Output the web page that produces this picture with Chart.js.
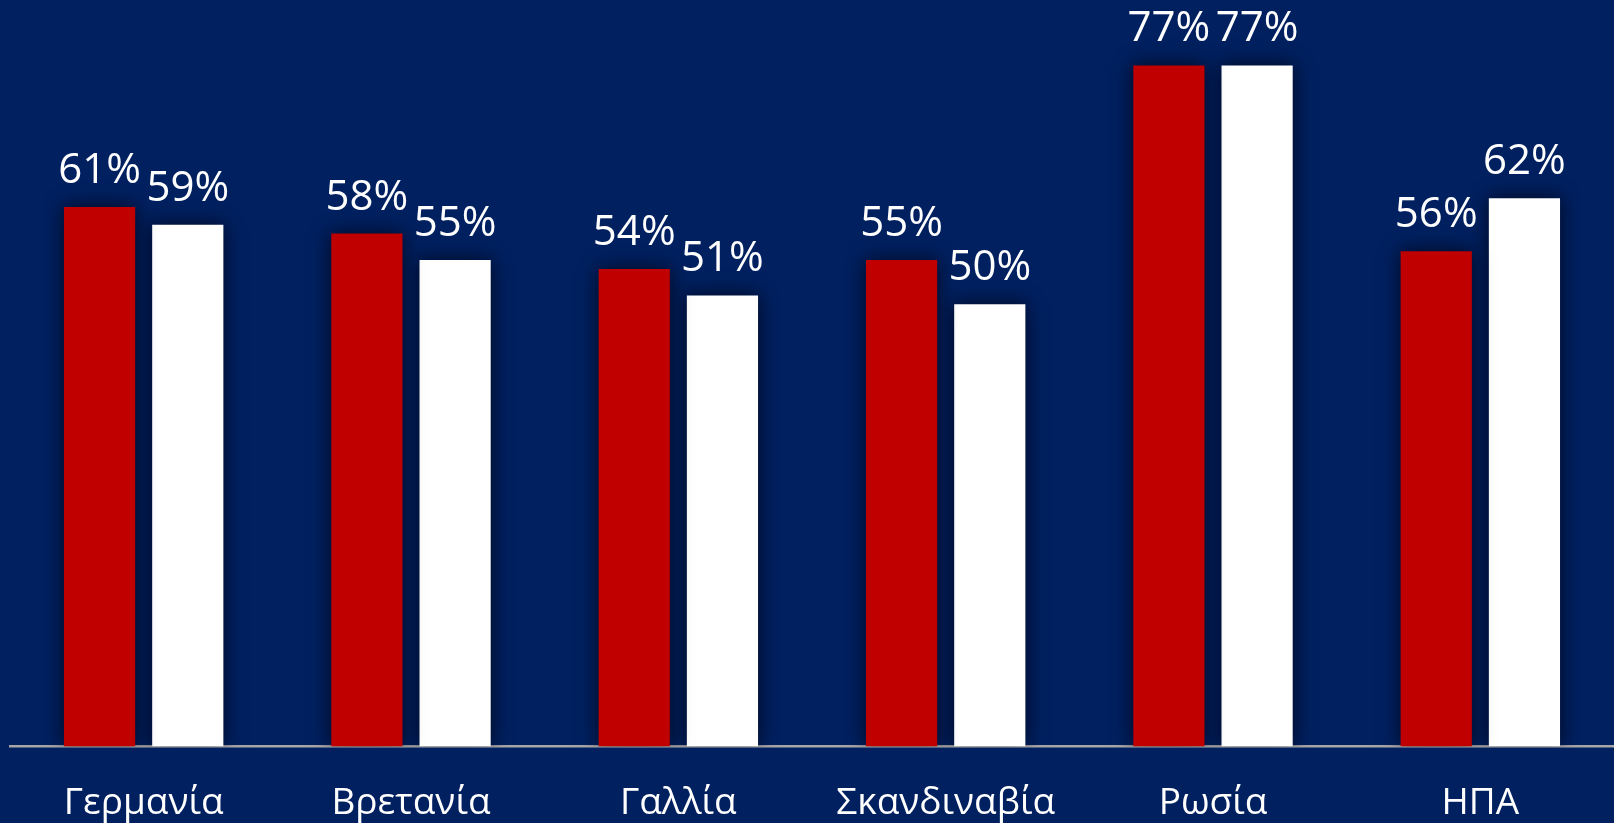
<!DOCTYPE html>
<html>
<head>
<meta charset="utf-8">
<script src="https://cdn.jsdelivr.net/npm/chart.js@4.4.1/dist/chart.umd.min.js"></script>
<style>
  html, body { margin: 0; padding: 0; background: #00205F; }
  #wrap { width: 1614px; height: 823px; }
</style>
</head>
<body>
<div id="wrap"><canvas id="chart" width="1614" height="823"></canvas></div>
<script>
// δεδομένα
const countries = ['Γερμανία', 'Βρετανία', 'Γαλλία', 'Σκανδιναβία', 'Ρωσία', 'ΗΠΑ'];
const seriesRed = [61, 58, 54, 55, 77, 56];
const seriesWhite = [59, 55, 51, 50, 77, 62];

const FONT = "'Open Sans', 'Noto Sans', sans-serif";

// σκιά γύρω από τις μπάρες
const barShadow = {
    id: 'barShadow',
    beforeDatasetsDraw(chart) {
        const ctx = chart.ctx;
        ctx.save();
        ctx.shadowColor = 'rgba(0, 6, 24, 0.9)';
        ctx.shadowBlur = 18;
        ctx.shadowOffsetX = 0;
        ctx.shadowOffsetY = 0;
    },
    afterDatasetsDraw(chart) {
        chart.ctx.restore();
    }
};

// ετικέτες τιμών πάνω από τις μπάρες
const valueLabels = {
    id: 'valueLabels',
    afterDatasetsDraw(chart) {
        const ctx = chart.ctx;
        ctx.save();
        ctx.font = '42px ' + FONT;
        ctx.fillStyle = '#ffffff';
        ctx.textAlign = 'center';
        ctx.textBaseline = 'alphabetic';
        chart.data.datasets.forEach((ds, i) => {
            chart.getDatasetMeta(i).data.forEach((bar, j) => {
                ctx.fillText(ds.data[j] + '%', bar.x, bar.y - 24);
            });
        });
        ctx.restore();
    }
};

function createChart() {
    const ctx = document.getElementById('chart').getContext('2d');
    new Chart(ctx, {
        type: 'bar',
        data: {
            labels: countries,
            datasets: [
                {
                    label: 'A',
                    data: seriesRed,
                    backgroundColor: '#C00000',
                    borderWidth: 0
                },
                {
                    label: 'B',
                    data: seriesWhite,
                    backgroundColor: '#FFFFFF',
                    borderWidth: 0
                }
            ]
        },
        options: {
            responsive: false,
            animation: false,
            datasets: {
                bar: {
                    categoryPercentage: 0.66,
                    barPercentage: 0.807
                }
            },
            layout: {
                padding: { left: 10, right: 0, top: 0, bottom: -30 }
            },
            plugins: {
                legend: { display: false },
                tooltip: { enabled: false }
            },
            scales: {
                y: {
                    display: false,
                    min: 0,
                    max: 84.4
                },
                x: {
                    grid: { display: false },
                    border: { display: true, color: '#A6A6A6', width: 2.5 },
                    ticks: {
                        color: '#ffffff',
                        padding: 27,
                        font: { family: FONT, size: 37 }
                    }
                }
            }
        },
        plugins: [barShadow, valueLabels]
    });
}

document.addEventListener('DOMContentLoaded', createChart);
</script>
</body>
</html>
